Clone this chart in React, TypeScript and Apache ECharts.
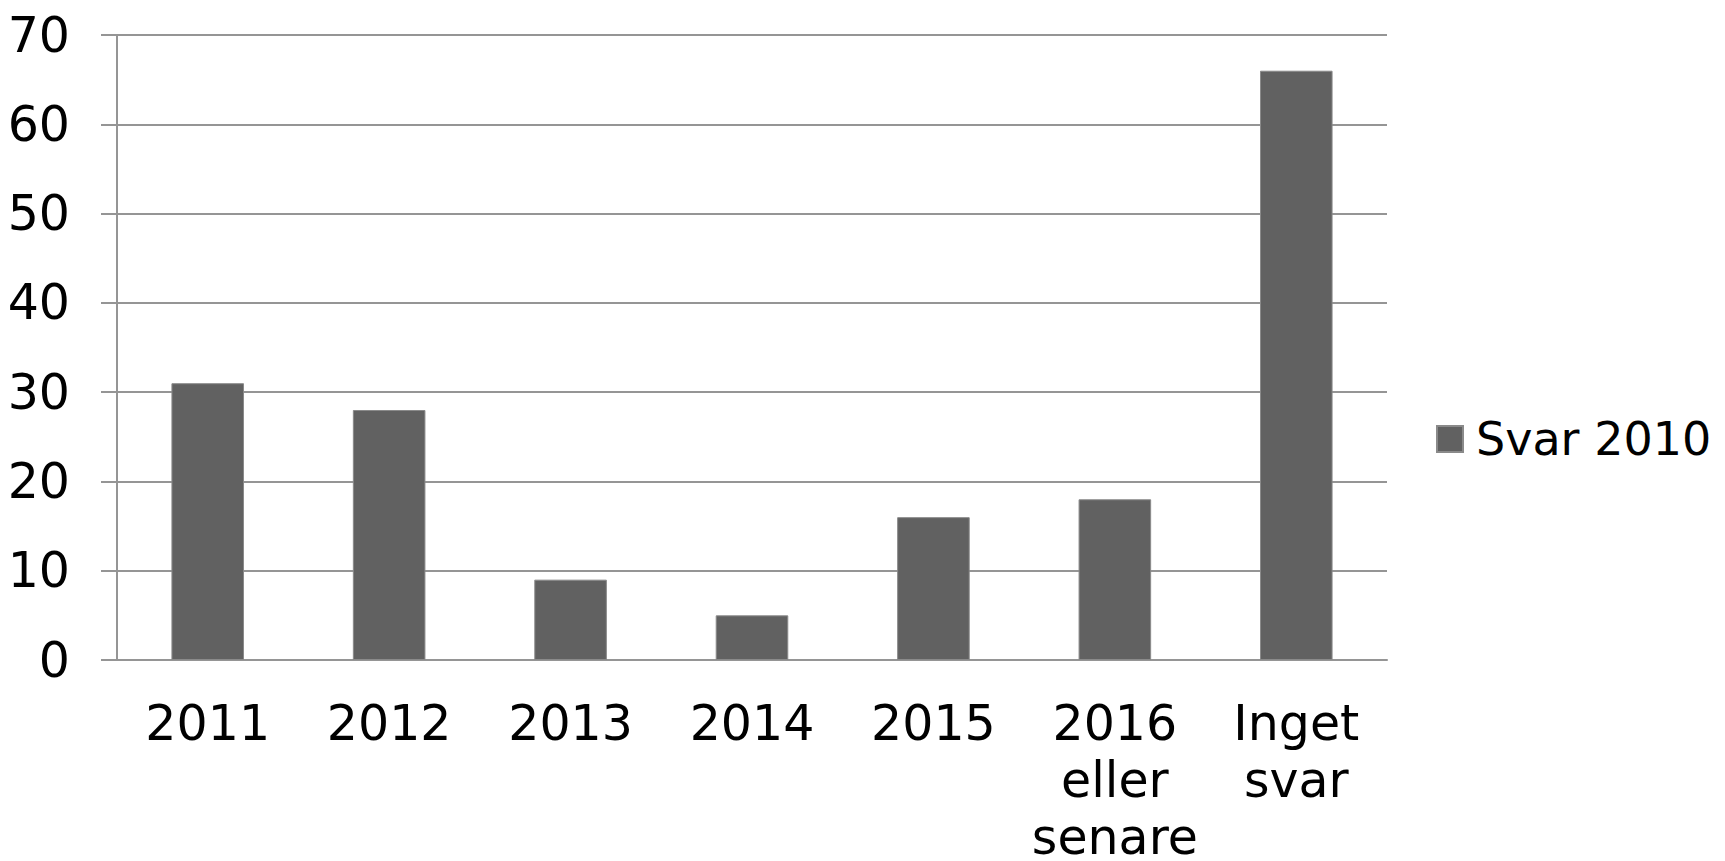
import React, { useEffect, useRef } from "react";
import * as echarts from "echarts";

const categories = ["2011", "2012", "2013", "2014", "2015", "2016\neller\nsenare", "Inget\nsvar"];
const seriesName = "Svar 2010";
const values = [31, 28, 9, 5, 16, 18, 66];
const yTicks = { min: 0, max: 70, interval: 10 };

export default function App() {
  const ref = useRef<HTMLDivElement>(null);
  useEffect(() => {
    if (!ref.current) return;
    const chart = echarts.init(ref.current, null, { renderer: "svg" });
    const font = "Verdana, 'DejaVu Sans', sans-serif";
    const lineColor = "#959595";
    chart.setOption({
      animation: false,
      backgroundColor: "#ffffff",
      textStyle: { fontFamily: font },
      grid: { left: 117, right: 338, top: 35, bottom: 201, containLabel: false, outerBoundsMode: "none" },
      legend: {
        data: [seriesName],
        left: 1431,
        top: 405,
        itemWidth: 26,
        itemHeight: 26,
        itemGap: 10,
        icon: "rect",
        textStyle: { fontSize: 46, color: "#000", fontFamily: font, lineHeight: 58, padding: [0, 0, 0, 8] },
      },
      xAxis: {
        type: "category",
        data: categories,
        axisLine: { lineStyle: { color: lineColor, width: 2 } },
        axisTick: { length: 16, lineStyle: { color: lineColor, width: 2 } },
        axisLabel: {
          interval: 0,
          fontSize: 49,
          color: "#000",
          fontFamily: font,
          lineHeight: 57,
          margin: 35,
        },
        splitLine: { show: false },
      },
      yAxis: {
        type: "value",
        min: yTicks.min,
        max: yTicks.max,
        interval: yTicks.interval,
        axisLine: { show: true, lineStyle: { color: lineColor, width: 2 } },
        axisTick: { show: true, length: 16, lineStyle: { color: lineColor, width: 2 } },
        axisLabel: { fontSize: 49, color: "#000", fontFamily: font, margin: 47 },
        splitLine: { show: true, lineStyle: { color: lineColor, width: 2 } },
      },
      series: [
        {
          name: seriesName,
          type: "bar",
          data: values,
          barWidth: "40%",
          itemStyle: { color: "#616161", borderColor: "#8a8a8a", borderWidth: 1 },
        },
      ],
    });
    return () => chart.dispose();
  }, []);
  return <div ref={ref} style={{ position: "fixed", left: 0, top: 0, width: 1725, height: 861 }} />;
}
